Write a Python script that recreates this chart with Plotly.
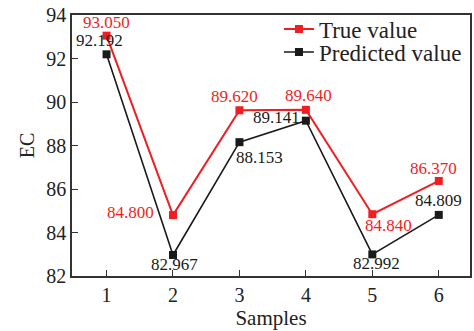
import plotly.graph_objects as go

samples = [1, 2, 3, 4, 5, 6]
true_value = [93.050, 84.800, 89.620, 89.640, 84.840, 86.370]
predicted_value = [92.192, 82.967, 88.153, 89.141, 82.992, 84.809]
y_ticks = [82, 84, 86, 88, 90, 92, 94]

RED = "#f01e23"
BLACK = "#1a1a1a"
FONT = "Liberation Serif, Times New Roman, serif"

fig = go.Figure()
fig.add_trace(go.Scatter(x=samples, y=true_value, mode="lines+markers", name="True value",
                         line=dict(color=RED, width=2), marker=dict(symbol="square", size=8, color=RED),
                         legend="legend"))
fig.add_trace(go.Scatter(x=samples, y=predicted_value, mode="lines+markers", name="Predicted value",
                         line=dict(color=BLACK, width=1.6), marker=dict(symbol="square", size=8, color=BLACK),
                         legend="legend2"))

# label offsets (xshift, yshift) in px
true_off = [(0, 13), (-42, 3), (-5, 14), (3, 14), (16, -11), (-5, 12)]
pred_off = [(-7, 14), (2, -10), (20, -15), (-29, 3), (4, -9), (0, 14)]

ann = []
for x, y, (dx, dy) in zip(samples, true_value, true_off):
    ann.append(dict(x=x, y=y, text=f"{y:.3f}", showarrow=False, xshift=dx, yshift=dy,
                    font=dict(family=FONT, size=17, color=RED)))
for x, y, (dx, dy) in zip(samples, predicted_value, pred_off):
    ann.append(dict(x=x, y=y, text=f"{y:.3f}", showarrow=False, xshift=dx, yshift=dy,
                    font=dict(family=FONT, size=17, color=BLACK)))

leg_common = dict(xanchor="left", yanchor="middle", bgcolor="rgba(0,0,0,0)",
                  font=dict(family=FONT, size=23, color="#222"), itemwidth=30)
fig.update_layout(
    width=474, height=331,
    margin=dict(l=72, r=2, t=15, b=55),
    paper_bgcolor="white", plot_bgcolor="white",
    font=dict(family=FONT, size=20, color="#222"),
    showlegend=True,
    legend=dict(x=0.52, y=1 - (29 - 15) / 261, **leg_common),
    legend2=dict(x=0.52, y=1 - (52 - 15) / 261, **leg_common),
    annotations=ann,
)
fig.update_xaxes(range=[0.48, 6.47], tickvals=samples, ticktext=[str(s) for s in samples],
                 ticks="inside", ticklen=6, tickcolor="#333", showline=True, linecolor="#333",
                 linewidth=1.5, mirror=True, showgrid=False, zeroline=False,
                 title=dict(text="Samples", standoff=2, font=dict(size=21)))
fig.update_yaxes(range=[82, 94], tickvals=y_ticks, ticks="inside", ticklen=6, tickcolor="#333",
                 showline=True, linecolor="#333", linewidth=1.5, mirror=True, showgrid=False,
                 zeroline=False, title=dict(text="EC", standoff=6, font=dict(size=20)))

fig.write_html("out.html")
